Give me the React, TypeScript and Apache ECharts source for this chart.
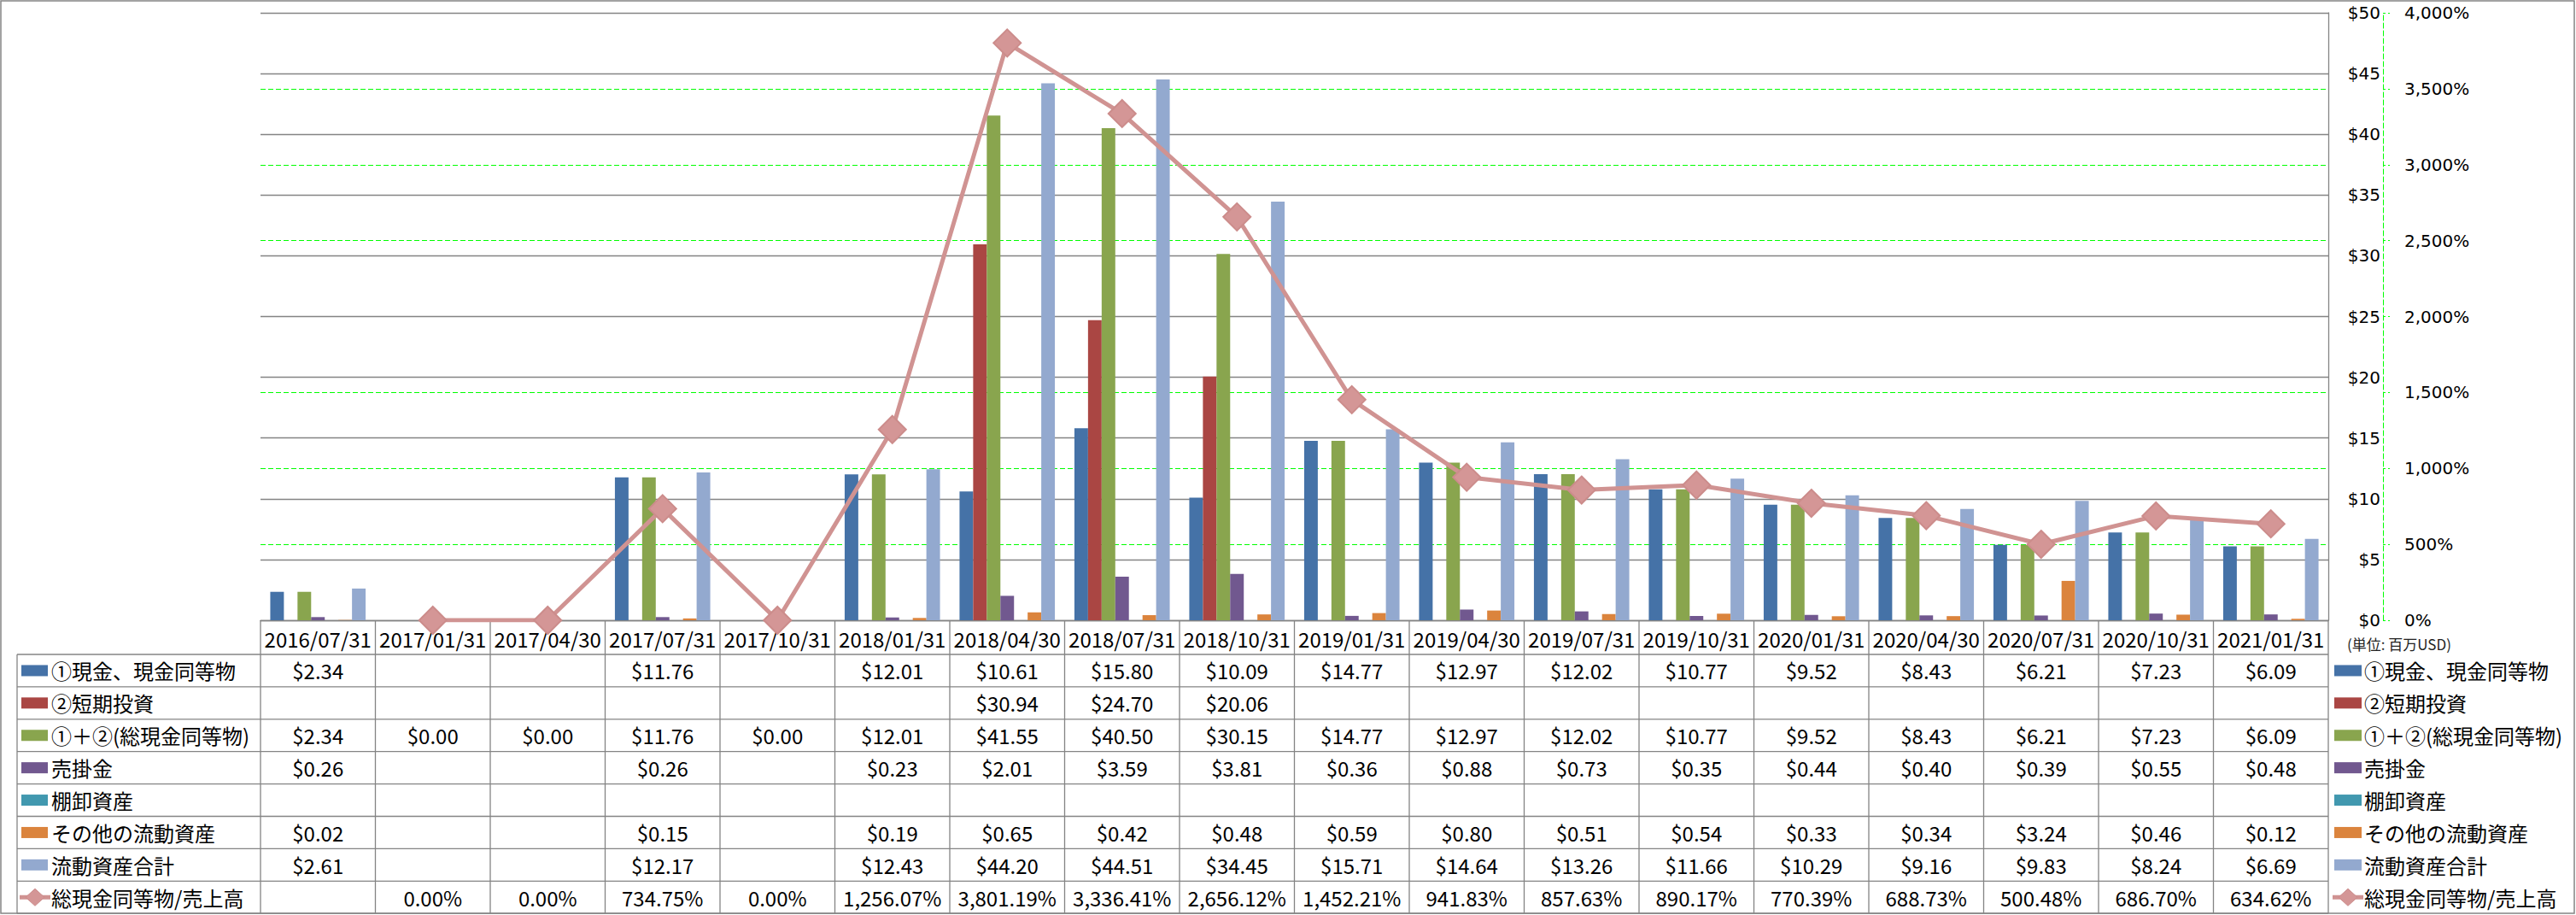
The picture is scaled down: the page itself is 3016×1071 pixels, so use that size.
import React, { useEffect, useRef } from 'react';
import * as echarts from 'echarts';

const categories = [
  '2016/07/31', '2017/01/31', '2017/04/30', '2017/07/31', '2017/10/31', '2018/01/31',
  '2018/04/30', '2018/07/31', '2018/10/31', '2019/01/31', '2019/04/30', '2019/07/31',
  '2019/10/31', '2020/01/31', '2020/04/30', '2020/07/31', '2020/10/31', '2021/01/31',
];

const cash = [2.34, null, null, 11.76, null, 12.01, 10.61, 15.80, 10.09, 14.77, 12.97, 12.02, 10.77, 9.52, 8.43, 6.21, 7.23, 6.09];
const shortInvest = [null, null, null, null, null, null, 30.94, 24.70, 20.06, null, null, null, null, null, null, null, null, null];
const totalCash = [2.34, 0, 0, 11.76, 0, 12.01, 41.55, 40.50, 30.15, 14.77, 12.97, 12.02, 10.77, 9.52, 8.43, 6.21, 7.23, 6.09];
const receivables = [0.26, null, null, 0.26, null, 0.23, 2.01, 3.59, 3.81, 0.36, 0.88, 0.73, 0.35, 0.44, 0.40, 0.39, 0.55, 0.48];
const inventory = [null, null, null, null, null, null, null, null, null, null, null, null, null, null, null, null, null, null];
const otherCurrent = [0.02, null, null, 0.15, null, 0.19, 0.65, 0.42, 0.48, 0.59, 0.80, 0.51, 0.54, 0.33, 0.34, 3.24, 0.46, 0.12];
const totalCurrent = [2.61, null, null, 12.17, null, 12.43, 44.20, 44.51, 34.45, 15.71, 14.64, 13.26, 11.66, 10.29, 9.16, 9.83, 8.24, 6.69];
const ratio = [null, 0, 0, 734.75, 0, 1256.07, 3801.19, 3336.41, 2656.12, 1452.21, 941.83, 857.63, 890.17, 770.39, 688.73, 500.48, 686.70, 634.62];

const barNames = ['①現金、現金同等物', '②短期投資', '①＋②(総現金同等物)', '売掛金', '棚卸資産', 'その他の流動資産', '流動資産合計'];
const lineName = '総現金同等物/売上高';
const unitLabel = '(単位: 百万USD)';

const barColors = ['#4572A7', '#AA4643', '#89A54E', '#71588F', '#4198AF', '#DB843D', '#93A9CF'];
const lineColor = '#D09392';
const gridGray = '#848484';
const green = '#00FF00';

const TABLE_FONT = '"Noto Sans CJK JP", "Noto Sans", sans-serif';
const AXIS_FONT = '"DejaVu Sans", sans-serif';

const fmtMoney = (v: number | null) => (v === null ? '' : '$' + v.toFixed(2));
const fmtPct = (v: number | null) =>
  v === null ? '' : v.toLocaleString('en-US', { minimumFractionDigits: 2, maximumFractionDigits: 2 }) + '%';

export default function App() {
  const ref = useRef<HTMLDivElement>(null);

  useEffect(() => {
    const chart = echarts.init(ref.current!, null, { renderer: 'svg' });
    const barData = [cash, shortInvest, totalCash, receivables, inventory, otherCurrent, totalCurrent];

    const option: any = {
      animation: false,
      backgroundColor: '#ffffff',
      grid: { left: 305, right: 290, top: 15, bottom: 345, containLabel: false },
      xAxis: {
        type: 'category',
        data: categories,
        z: 1,
        axisLine: { show: true, lineStyle: { color: gridGray, width: 1.3 } },
        axisTick: { show: false },
        axisLabel: { interval: 0, margin: 9, fontSize: 24, fontFamily: TABLE_FONT, color: '#000' },
        splitLine: { show: false },
      },
      yAxis: [
        {
          type: 'value',
          position: 'right',
          z: 1,
          min: 0,
          max: 50,
          interval: 5,
          axisLine: { show: true, lineStyle: { color: gridGray, width: 1.3 } },
          axisTick: { show: false },
          axisLabel: {
            formatter: (v: number) => '$' + v,
            align: 'right',
            margin: 61,
            fontSize: 20,
            fontFamily: AXIS_FONT,
            color: '#000',
          },
          splitLine: { show: true, lineStyle: { color: gridGray, width: 1.3 } },
        },
        {
          type: 'value',
          position: 'right',
          z: 0,
          offset: 64,
          min: 0,
          max: 4000,
          interval: 500,
          axisLine: { show: true, lineStyle: { color: green, width: 1, type: [6, 3] } },
          axisTick: { show: true, length: 8, lineStyle: { color: green, width: 1, type: [3, 3] } },
          axisLabel: {
            formatter: (v: number) => v.toLocaleString('en-US') + '%',
            margin: 25,
            fontSize: 20,
            fontFamily: AXIS_FONT,
            color: '#000',
          },
          splitLine: {
            show: true,
            showMinLine: false,
            showMaxLine: false,
            lineStyle: { color: green, width: 1, type: [6, 3] },
          },
        },
      ],
      series: [
        ...barNames.map((name, i) => ({
          name,
          type: 'bar',
          yAxisIndex: 0,
          data: barData[i],
          barGap: '0%',
          barCategoryGap: '17%',
          itemStyle: { color: barColors[i] },
        })),
        {
          name: lineName,
          type: 'line',
          yAxisIndex: 1,
          data: ratio,
          symbol: 'diamond',
          symbolSize: 32,
          showAllSymbol: true,
          lineStyle: { color: lineColor, width: 5 },
          itemStyle: { color: '#D49696', borderColor: '#CC8C8B', borderWidth: 2 },
          z: 5,
        },
      ],
    };
    chart.setOption(option);

    // ---- data table below the plot ----
    const centers = categories.map((_, i) => chart.convertToPixel({ xAxisIndex: 0 }, i) as number);
    const band = centers.length > 1 ? centers[1] - centers[0] : 134.5;
    const colLeft = centers[0] - band / 2;
    const colRight = centers[centers.length - 1] + band / 2;
    const axisY = chart.convertToPixel({ yAxisIndex: 0 }, 0) as number;
    const tableLeft = 20;
    const rowTop = 766;
    const rowH = 37.9;
    const nRows = 8;
    const tableBottom = rowTop + nRows * rowH;
    const lineStyle = { stroke: gridGray, lineWidth: 1.3 };

    const els: any[] = [];
    els.push({ type: 'rect', shape: { x: 1, y: 1, width: 3013, height: 1068 }, style: { fill: null, stroke: gridGray, lineWidth: 1.5 }, silent: true, z: 0 });

    for (let r = 0; r <= nRows; r++) {
      const y = rowTop + r * rowH;
      els.push({ type: 'line', shape: { x1: tableLeft, y1: y, x2: colRight, y2: y }, style: lineStyle, silent: true });
    }
    els.push({ type: 'line', shape: { x1: tableLeft, y1: rowTop, x2: tableLeft, y2: tableBottom }, style: lineStyle, silent: true });
    for (let i = 0; i <= categories.length; i++) {
      const x = colLeft + i * band;
      els.push({ type: 'line', shape: { x1: x, y1: axisY, x2: x, y2: tableBottom }, style: lineStyle, silent: true });
    }

    const rows: (number | null)[][] = [cash, shortInvest, totalCash, receivables, inventory, otherCurrent, totalCurrent, ratio];
    const rowNames = [...barNames, lineName];

    const textEl = (text: string, x: number, y: number, align: string, size = 24, color = '#000') => ({
      type: 'text',
      silent: true,
      style: {
        text,
        x,
        y,
        fill: color,
        font: `${size}px ${TABLE_FONT}`,
        align,
        verticalAlign: 'middle',
        textAlign: align,
        textVerticalAlign: 'middle',
      },
    });

    const diamond = (cx: number, cy: number, w: number, h: number) => ({
      type: 'polygon',
      silent: true,
      shape: { points: [[cx, cy - h / 2], [cx + w / 2, cy], [cx, cy + h / 2], [cx - w / 2, cy]] },
      style: { fill: '#D49696', stroke: '#CC8C8B', lineWidth: 1 },
    });

    rows.forEach((vals, r) => {
      const cy = rowTop + r * rowH + rowH / 2;
      const isPct = r === rows.length - 1;
      if (!isPct) {
        els.push({ type: 'rect', silent: true, shape: { x: 25, y: cy - 6.5, width: 31, height: 13 }, style: { fill: barColors[r] } });
        els.push({ type: 'rect', silent: true, shape: { x: 2733, y: cy - 6.5, width: 32, height: 13 }, style: { fill: barColors[r] } });
      } else {
        els.push({ type: 'line', silent: true, shape: { x1: 23, y1: cy, x2: 59, y2: cy }, style: { stroke: lineColor, lineWidth: 5 } });
        els.push(diamond(41, cy, 22, 20));
        els.push({ type: 'line', silent: true, shape: { x1: 2731, y1: cy, x2: 2767, y2: cy }, style: { stroke: lineColor, lineWidth: 5 } });
        els.push(diamond(2749, cy, 22, 20));
      }
      els.push(textEl(rowNames[r], 60, cy, 'left'));
      els.push(textEl(rowNames[r], 2768, cy, 'left'));
      vals.forEach((v, i) => {
        const t = isPct ? fmtPct(v) : fmtMoney(v);
        if (t) els.push(textEl(t, centers[i], cy, 'center'));
      });
    });

    els.push(textEl(unitLabel, 2748, 753, 'left', 17, '#222'));

    chart.setOption({ graphic: { elements: els } });

    return () => chart.dispose();
  }, []);

  return (
    <div
      ref={ref}
      style={{ position: 'fixed', left: 0, top: 0, width: '3016px', height: '1071px', background: '#fff' }}
    />
  );
}
